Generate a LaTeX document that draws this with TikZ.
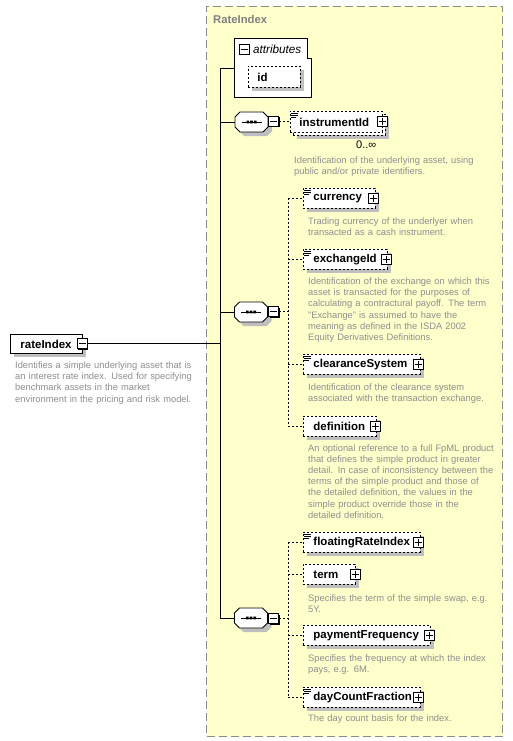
\documentclass[tikz,border=0pt]{standalone}
\usepackage{fontspec}
\setmainfont{Liberation Sans}
\definecolor{bgyellow}{HTML}{FFFFCC}
\definecolor{bordergray}{HTML}{8C8C8C}
\definecolor{descgray}{HTML}{8E8E8E}
\definecolor{titlegray}{HTML}{808080}
\tikzset{
  box/.style={draw, line width=0.9pt, fill=white, anchor=north west,
    minimum height=20pt, inner xsep=10pt, inner ysep=0pt, align=left,
    font=\fontsize{11.5}{13}\selectfont\bfseries,
    execute at begin node={\hyphenpenalty=10000\relax}},
  elem/.style={box, dash pattern=on 2pt off 2pt},
  pmbox/.style={draw, fill=white, line width=0.8pt, minimum size=10pt, inner sep=0pt},
  plusbox/.style={pmbox, path picture={\draw[line width=0.8pt]
      (path picture bounding box.center) +(-3.5pt,0) -- +(3.5pt,0)
      +(0,-3.5pt) -- +(0,3.5pt);}},
  minusbox/.style={pmbox, path picture={\draw[line width=0.8pt]
      (path picture bounding box.center) +(-3.5pt,0) -- +(3.5pt,0);}},
  seqnode/.style={minimum width=33pt, minimum height=20pt, inner sep=0pt, outer sep=0pt},
  desc/.style={anchor=base west, inner sep=0pt, align=left, text width=200pt,
    font=\fontsize{9.35}{11.2}\selectfont, text=descgray},
  conn/.style={line width=0.9pt},
  dconn/.style={line width=0.9pt, dash pattern=on 2pt off 2pt},
  iconline/.style={line width=0.6pt},
  shadowfill/.style={fill=black!25, draw=none},
  pmshadowfill/.style={fill=black, draw=none}
}
\newcommand{\docicon}[2]{% x y of box top-left
  \draw[iconline] (#1+1,#2+2) -- ++(7,0) (#1+1,#2+4) -- ++(7,0) (#1+1,#2+6) -- ++(5,0);}
\newcommand{\seqinner}[2]{%
  \draw[line width=0.9pt] (#1-10,#2) -- (#1+10,#2);
  \fill (#1-5,#2-1.3) rectangle (#1-2.3,#2+1.3)
        (#1-1.35,#2-1.3) rectangle (#1+1.35,#2+1.3)
        (#1+2.3,#2-1.3) rectangle (#1+5,#2+1.3);}
\begin{document}
\begin{tikzpicture}[x=1pt, y=-1pt]
\useasboundingbox (0,0) rectangle (513,741);
\fill[white] (0,0) rectangle (513,741);

% complex type container
\node[draw=bordergray, line width=1pt, dash pattern=on 8pt off 4pt, fill=bgyellow,
  minimum width=296pt, minimum height=730pt, anchor=north west, inner sep=0pt]
  (type) at (206,6) {};
\node[anchor=west, inner sep=0pt, font=\fontsize{11.3}{13}\selectfont\bfseries,
  text=titlegray] (title) at (213,19) {RateIndex};

% attributes
\draw[line width=0.9pt, fill=white] (234,38) -- (307,38) -- (307,58) -- (311,58)
  -- (311,97) -- (234,97) -- cycle;
\node[minimum width=77pt, minimum height=59pt, anchor=north west, inner sep=0pt]
  (attr) at (234,38) {};
\path[pmshadowfill] (240,45) rectangle (250,55);
\node[minusbox] (attr-m) at (244,49) {};
\node[anchor=west, inner sep=0pt, font=\fontsize{11.7}{13}\selectfont\itshape]
  (attr-label) at (253,49) {attributes};
\path[shadowfill] (252,70) rectangle (304,91);
\node[elem, inner xsep=9pt, text width=34pt, minimum height=21pt] (id) at (248,66) {id};

% root element
\path[shadowfill] (14,338) rectangle (86,357);
\node[box, text width=52pt, minimum height=19pt] (rateIndex) at (10,334) {rateIndex};
\path[pmshadowfill] (78,339.5) rectangle (88,349.5);
\node[minusbox] (rateIndex-m) at (82,343.5) {};
\node[desc] (rateIndex-d) at (15,368.5) {Identifies a simple underlying asset that is\\
an interest rate index. Used for specifying\\benchmark assets in the market\\
environment in the pricing and risk model.};

% sequences (octagons with shadows)
\path[shadowfill] (244,116) -- (267,116) -- (272,121) -- (272,131) -- (267,136)
  -- (244,136) -- (239,131) -- (239,121) -- cycle;
\draw[line width=0.9pt, fill=white] (240,112) -- (263,112) -- (268,117) -- (268,127)
  -- (263,132) -- (240,132) -- (235,127) -- (235,117) -- cycle;
\node[seqnode] (seq1) at (251.5,122) {};
\seqinner{251.5}{122}
\path[pmshadowfill] (269.5,117.5) rectangle (279.5,127.5);
\node[minusbox] (seq1-m) at (273.5,121.5) {};

\path[shadowfill] (243.5,306) -- (266.5,306) -- (271.5,311) -- (271.5,321) -- (266.5,326)
  -- (243.5,326) -- (238.5,321) -- (238.5,311) -- cycle;
\draw[line width=0.9pt, fill=white] (239.5,302) -- (262.5,302) -- (267.5,307) -- (267.5,317)
  -- (262.5,322) -- (239.5,322) -- (234.5,317) -- (234.5,307) -- cycle;
\node[seqnode] (seq2) at (251,312) {};
\seqinner{251}{312}
\path[pmshadowfill] (269.5,307.5) rectangle (279.5,317.5);
\node[minusbox] (seq2-m) at (273.5,311.5) {};

\path[shadowfill] (243.5,612) -- (266.5,612) -- (271.5,617) -- (271.5,627) -- (266.5,632)
  -- (243.5,632) -- (238.5,627) -- (238.5,617) -- cycle;
\draw[line width=0.9pt, fill=white] (239.5,608) -- (262.5,608) -- (267.5,613) -- (267.5,623)
  -- (262.5,628) -- (239.5,628) -- (234.5,623) -- (234.5,613) -- cycle;
\node[seqnode] (seq3) at (251,618) {};
\seqinner{251}{618}
\path[pmshadowfill] (269.5,614.5) rectangle (279.5,624.5);
\node[minusbox] (seq3-m) at (273.5,618.5) {};

% instrumentId (multiple)
\path[shadowfill] (297,118) rectangle (389,139);
\node[elem, minimum height=21pt, text width=74pt, inner xsep=9pt] (instrumentId-back) at (293,114) {};
\node[elem, minimum height=21pt, text width=74pt, inner xsep=9pt] (instrumentId) at (290,111) {instrumentId};
\docicon{290}{111}
\path[pmshadowfill] (378,117.5) rectangle (388,127.5);
\node[plusbox] (instrumentId-p) at (382,121.5) {};
\node[anchor=west, inner sep=0pt, font=\fontsize{11}{13}\selectfont] (instrumentId-card) at (356,145) {0..∞};
\node[desc] (instrumentId-d) at (294,163.5) {Identification of the underlying asset, using\\public and/or private identifiers.};

% sequence 2 children
\path[shadowfill] (307,192) rectangle (379,212);
\node[elem, text width=52pt] (currency) at (303,188) {currency};
\docicon{303}{188}
\path[pmshadowfill] (369,194) rectangle (379,204);
\node[plusbox] (currency-p) at (373,198) {};
\node[desc] (currency-d) at (308,224.5) {Trading currency of the underlyer when\\transacted as a cash instrument.};

\path[shadowfill] (307,253) rectangle (391,273);
\node[elem, text width=64pt] (exchangeId) at (303,249) {exchangeId};
\docicon{303}{249}
\path[pmshadowfill] (382,255) rectangle (392,265);
\node[plusbox] (exchangeId-p) at (386,259) {};
\node[desc] (exchangeId-d) at (308,284.5) {Identification of the exchange on which this\\
asset is transacted for the purposes of\\calculating a contractural payoff. The term\\
"Exchange" is assumed to have the\\meaning as defined in the ISDA 2002\\
Equity Derivatives Definitions.};

\path[shadowfill] (307,358) rectangle (424,378);
\node[elem, text width=97pt] (clearanceSystem) at (303,354) {clearanceSystem};
\docicon{303}{354}
\path[pmshadowfill] (414,360) rectangle (424,370);
\node[plusbox] (clearanceSystem-p) at (418,364) {};
\node[desc] (clearanceSystem-d) at (308,390) {Identification of the clearance system\\associated with the transaction exchange.};

\path[shadowfill] (307,420) rectangle (380,440);
\node[elem, text width=53pt] (definition) at (303,416) {definition};
\path[pmshadowfill] (371,422) rectangle (381,432);
\node[plusbox] (definition-p) at (375,426) {};
\node[desc] (definition-d) at (308,451) {An optional reference to a full FpML product\\
that defines the simple product in greater\\detail. In case of inconsistency between the\\
terms of the simple product and those of\\the detailed definition, the values in the\\
simple product override those in the\\detailed definition.};

% sequence 3 children
\path[shadowfill] (307,536) rectangle (424,556);
\node[elem, text width=97pt] (floatingRateIndex) at (303,532) {floatingRateIndex};
\docicon{303}{532}
\path[pmshadowfill] (414,538) rectangle (424,548);
\node[plusbox] (floatingRateIndex-p) at (418,542) {};

\path[shadowfill] (307,568) rectangle (359,588);
\node[elem, text width=32pt] (term) at (303,564) {term};
\path[pmshadowfill] (351,570) rectangle (361,580);
\node[plusbox] (term-p) at (355,574) {};
\node[desc] (term-d) at (308,601) {Specifies the term of the simple swap, e.g.\\5Y.};

\path[shadowfill] (307,629) rectangle (434,649);
\node[elem, text width=107pt] (paymentFrequency) at (303,625) {paymentFrequency};
\path[pmshadowfill] (425,631) rectangle (435,641);
\node[plusbox] (paymentFrequency-p) at (429,635) {};
\node[desc] (paymentFrequency-d) at (308,661.7) {Specifies the frequency at which the index\\pays, e.g. 6M.};

\path[shadowfill] (307,691) rectangle (424,711);
\node[elem, text width=97pt] (dayCountFraction) at (303,687) {dayCountFraction};
\docicon{303}{687}
\path[pmshadowfill] (414,693) rectangle (424,703);
\node[plusbox] (dayCountFraction-p) at (418,697) {};
\node[desc] (dayCountFraction-d) at (308,721.7) {The day count basis for the index.};

% solid connectors
\coordinate (bus1) at (220,68);
\draw[conn] (bus1) -- (seq3.west -| bus1);
\draw[conn] (bus1) -- (bus1 -| attr.west);
\draw[conn] (rateIndex-m.east) -- (rateIndex-m.east -| bus1);
\draw[conn] (seq1.west -| bus1) -- (seq1.west);
\draw[conn] (seq2.west -| bus1) -- (seq2.west);
\draw[conn] (seq3.west -| bus1) -- (seq3.west);

% dashed connectors
\draw[dconn] (seq1-m.east) -- (seq1-m.east -| instrumentId.west);
\coordinate (bus2) at (288,312);
\draw[dconn] (seq2-m.east) -- (seq2-m.east -| bus2);
\draw[dconn] (currency.west -| bus2) -- (definition.west -| bus2);
\foreach \n in {currency,exchangeId,clearanceSystem,definition}
  \draw[dconn] (\n.west -| bus2) -- (\n.west);
\coordinate (bus3) at (288,618);
\draw[dconn] (seq3-m.east) -- (seq3-m.east -| bus3);
\draw[dconn] (floatingRateIndex.west -| bus3) -- (dayCountFraction.west -| bus3);
\foreach \n in {floatingRateIndex,term,paymentFrequency,dayCountFraction}
  \draw[dconn] (\n.west -| bus3) -- (\n.west);
\end{tikzpicture}
\end{document}
